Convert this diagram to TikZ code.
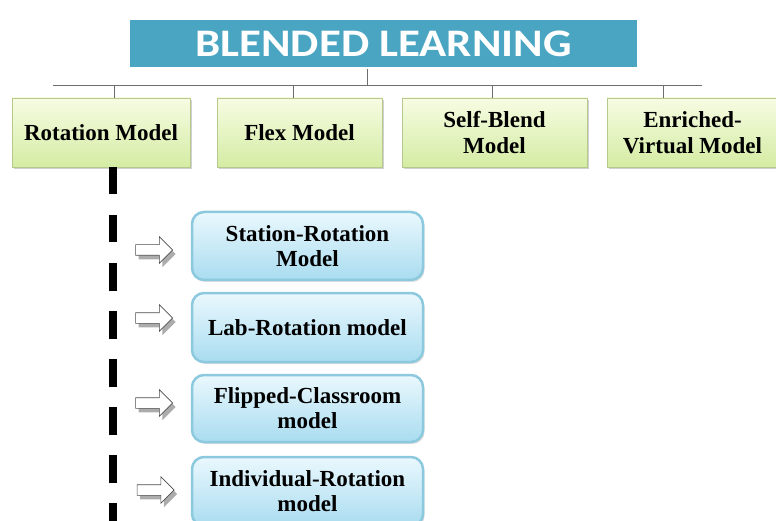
\documentclass[tikz,border=0pt]{standalone}
\usepackage{fontspec}
\setmainfont{Liberation Serif}
\newfontfamily\titlefont[FakeStretch=1.15]{Carlito}
\usetikzlibrary{shapes.arrows,shadows}

\definecolor{titleblue}{HTML}{4AA5C2}
\definecolor{greentop}{HTML}{F7FCE3}
\definecolor{greenbot}{HTML}{D4ECA3}
\definecolor{greenrim}{HTML}{B5C98E}
\definecolor{bluetop}{HTML}{EAF8FD}
\definecolor{bluebot}{HTML}{A9DCF0}
\definecolor{bluerim}{HTML}{8DC9DE}
\definecolor{busgray}{HTML}{6E6E6E}

\begin{document}
\begin{tikzpicture}[x=1pt, y=-1pt,
		titlebox/.style={fill=titleblue, text=white, draw=gray!30, double=white, double distance=3.5pt, minimum width=511pt, minimum height=51pt, inner sep=0pt, font=\titlefont\bfseries\fontsize{39}{42}\selectfont},
		modelbox/.style={top color=greentop, bottom color=greenbot, draw=greenrim, line width=0.6pt, minimum height=69pt, inner sep=0pt, align=center, font=\bfseries\fontsize{23}{26}\selectfont, drop shadow={fill=gray!60, opacity=0.6, shadow xshift=2pt, shadow yshift=-2pt}},
		rotbox/.style={top color=bluetop, bottom color=bluebot, draw=bluerim, line width=2.5pt, rounded corners=12pt, minimum width=231pt, inner sep=0pt, align=center, font=\bfseries\fontsize{23}{25}\selectfont, drop shadow={fill=gray!50, opacity=0.5, shadow xshift=1.5pt, shadow yshift=-2pt}},
		blockarrow/.style={single arrow, draw=gray!60!black, fill=white, line width=0.6pt, minimum height=37pt, single arrow head extend=8pt, inner xsep=0pt, inner ysep=5pt, drop shadow={fill=gray!65, opacity=1, shadow xshift=3pt, shadow yshift=-4pt}},
		bus/.style={draw=busgray, line width=0.8pt}]
		
		\useasboundingbox (0,0) rectangle (776,521);
		
		% Title and models
		\node[titlebox] (title) at (383.5,43.5) {BLENDED LEARNING};
		
		\node[modelbox, minimum width=178pt] (rotation) at (101,132.5) {Rotation Model};
		\node[modelbox, minimum width=165pt] (flex) at (299.5,132.5) {Flex Model};
		\node[modelbox, minimum width=185pt] (selfblend) at (494.5,132.5) {Self-Blend\\Model};
		\node[modelbox, minimum width=171pt] (enriched) at (692.5,132.5) {Enriched-\\Virtual Model};
		
		% Bus lines
		\coordinate (buswest) at (53,85);
		\coordinate (buseast) at (702,85);
		\coordinate (tick1) at (114,85);
		\coordinate (tick2) at (293,85);
		\coordinate (tick3) at (367,85);
		\coordinate (tick4) at (492,85);
		\coordinate (tick5) at (663,85);
		\draw[bus] (buswest) -- (buseast);
		\draw[bus] (tick3 |- title.south) -- (tick3);
		\draw[bus] (tick1) -- (tick1 |- rotation.north);
		\draw[bus] (tick2) -- (tick2 |- flex.north);
		\draw[bus] (tick4) -- (tick4 |- selfblend.north);
		\draw[bus] (tick5) -- (tick5 |- enriched.north);
		
		% Rotation sub-models
		\node[rotbox, minimum height=68pt] (station) at (307.5,246) {Station-Rotation\\Model};
		\node[rotbox, minimum height=69pt] (lab) at (307.5,327.5) {Lab-Rotation model};
		\node[rotbox, minimum height=67pt] (flipped) at (307.5,408.5) {Flipped-Classroom\\model};
		\node[rotbox, minimum height=69pt] (individual) at (307.5,491.5) {Individual-Rotation\\model};
		
		% Dashed spine
		\coordinate (spineend) at (113,521);
		\draw[line width=8pt, dash pattern=on 27.5pt off 20.5pt] (113,167) -- (spineend);
		
		% Arrows
		\node[blockarrow] (arrstation) at (151.5,250) {};
		\node[blockarrow] (arrlab) at (151.5,318) {};
		\node[blockarrow] (arrflipped) at (151.5,403) {};
		\node[blockarrow] (arrindividual) at (153,490) {};
		
\end{tikzpicture}
\end{document}
